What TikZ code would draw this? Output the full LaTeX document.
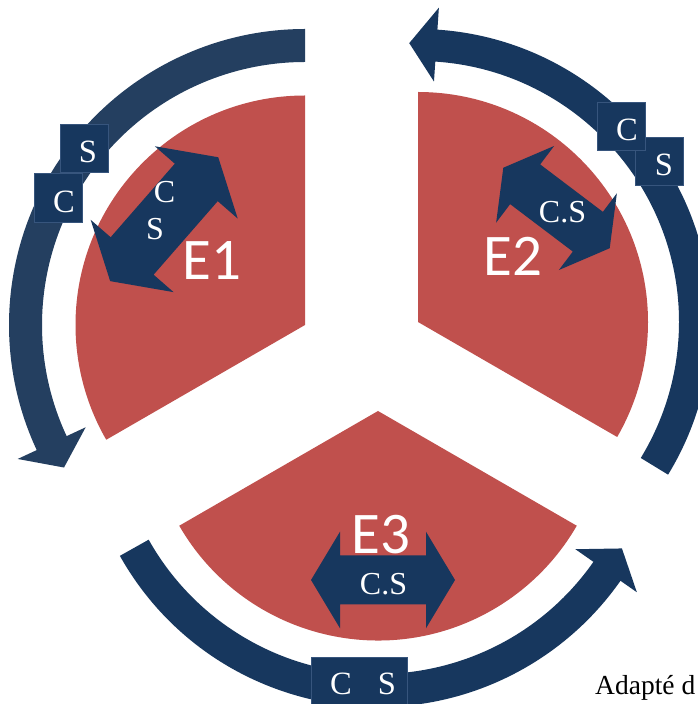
\documentclass[tikz,border=0pt]{standalone}
\usepackage{fontspec}
\setmainfont{Liberation Serif}
\newfontfamily\calibfont{Carlito}
\definecolor{redfill}{RGB}{192,80,77}
\definecolor{navy}{RGB}{23,55,94}
\definecolor{navyA}{RGB}{36,63,96}
\definecolor{boxline}{RGB}{55,85,125}
\newcommand{\dblarrowshape}[4]{% half length, head length, half head width, half shaft width
  \fill[dbl] (#1,0) -- ({#1-#2},#3) -- ({#1-#2},#4) -- ({-#1+#2},#4) -- ({-#1+#2},#3) -- (-#1,0)
    -- ({-#1+#2},-#3) -- ({-#1+#2},-#4) -- ({#1-#2},-#4) -- ({#1-#2},-#3) -- cycle;}
\begin{document}
\begin{tikzpicture}[x=1pt,y=1pt,
  sector/.style={fill=redfill},
  ringA/.style={fill=navyA},
  ringB/.style={fill=navy},
  dbl/.style={fill=navy},
  lbox/.style={fill=navy,draw=boxline,line width=0.6pt},
  boxtxt/.style={text=white,font=\fontsize{32.5}{32.5}\selectfont,inner sep=0pt,anchor=base},
  arrtxt/.style={text=white,font=\fontsize{32}{32}\selectfont,inner sep=0pt,anchor=base},
  elabel/.style={text=white,font=\calibfont\fontsize{59}{59}\selectfont,inner sep=0pt,anchor=base},
  srctxt/.style={text=black,font=\fontsize{27.5}{27.5}\selectfont,inner sep=0pt,anchor=base west}]
\useasboundingbox (0,0) rectangle (698,704);
\fill[white] (0,0) rectangle (698,704);
\coordinate (O1) at (305,379);
\coordinate (O2) at (418,382);
\coordinate (O3) at (378,293);
% sectors
\fill[sector] (O1) -- ([shift={(O1)}]90:229.5) arc[start angle=90,end angle=210,radius=229.5] -- cycle;
\fill[sector] (O2) -- ([shift={(O2)}]90:230) arc[start angle=90,end angle=-30,radius=230] -- cycle;
\fill[sector] (O3) -- ([shift={(O3)}]210:229.5) arc[start angle=210,end angle=330,radius=229.5] -- cycle;
% ring 1
\fill[ringA] ([shift={(O1)}]90:296) arc[start angle=90,end angle=205,radius=296]
  -- ([shift={(O1)}]205:317) -- ([shift={(O1)}]210.6:280) -- ([shift={(O1)}]205:242)
  -- ([shift={(O1)}]205:263) arc[start angle=205,end angle=90,radius=263] -- cycle;
% ring 2
\fill[ringB] ([shift={(O2)}]-31.4:261) -- ([shift={(O2)}]-31.4:293) arc[start angle=-31.4,end angle=86.2,radius=293]
  -- ([shift={(O2)}]86.2:315) -- ([shift={(O2)}]91.8:279) -- ([shift={(O2)}]86.2:241)
  -- ([shift={(O2)}]86.2:261) arc[start angle=86.2,end angle=-31.4,radius=261] -- cycle;
% ring 3
\fill[ringB] ([shift={(O3)}]209.3:263) -- ([shift={(O3)}]209.3:296) arc[start angle=209.3,end angle=325,radius=296]
  -- ([shift={(O3)}]325:316) -- ([shift={(O3)}]330.6:280) -- ([shift={(O3)}]325:241)
  -- ([shift={(O3)}]325:263) arc[start angle=325,end angle=209.3,radius=263] -- cycle;
% double arrows
\begin{scope}[shift={(164.2,484.8)},rotate=48.9]
  \dblarrowshape{82.2}{33.4}{55}{28.5}
\end{scope}
\begin{scope}[shift={(556.5,496)},rotate=-37.1]
  \dblarrowshape{66.7}{27.4}{48.1}{24.9}
\end{scope}
\begin{scope}[shift={(383,124)}]
  \dblarrowshape{72}{29}{48.3}{24.5}
\end{scope}
% boxes
\filldraw[lbox] (60.7,531.3) rectangle (108.3,579.7);
\filldraw[lbox] (34,481.7) rectangle (82.3,530.3);
\filldraw[lbox] (635,519) rectangle (683,567);
\filldraw[lbox] (597,554) rectangle (645,602);
\filldraw[lbox] (311,-1) rectangle (407,47);
% box letters
\node[boxtxt] (b1s) at (88,541.5) {S};
\node[boxtxt] (b1c) at (64,491.3) {C};
\node[boxtxt] (b2c) at (627,563) {C};
\node[boxtxt] (b2s) at (664,528.5) {S};
\node[boxtxt] (b3c) at (341,9.5) {C};
\node[boxtxt] (b3s) at (387,9.5) {S};
% arrow texts
\node[arrtxt] (a1c) at (164.5,501) {C};
\node[arrtxt] (a1s) at (155,464) {S};
\node[arrtxt] (a2) at (562.5,481.7) {C.S};
\node[arrtxt] (a3) at (383.5,109.5) {C.S};
% labels
\node[elabel] (e1) at (212,424.7) {E1};
\node[elabel] (e2) at (513.3,428) {E2};
\node[elabel] (e3) at (381,150) {E3};
\node[srctxt] (src) at (595,9.7) {Adapté d};
\end{tikzpicture}
\end{document}
